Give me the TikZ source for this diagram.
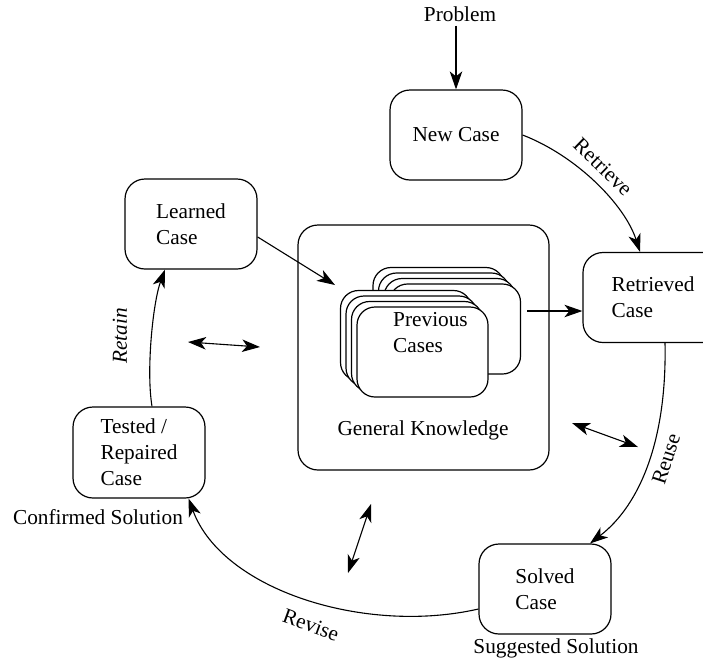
\documentclass[tikz,border=0pt]{standalone}
\usepackage{fontspec}
\setmainfont{Liberation Serif}
\usetikzlibrary{arrows.meta}
\begin{document}
\begin{tikzpicture}[x=1pt,y=-1pt,
  every node/.style={font=\fontsize{21.3}{26}\selectfont},
  casebox/.style={draw, line width=1.2pt, rounded corners=20pt, minimum width=132pt,
    minimum height=90pt, align=left, inner sep=0pt},
  card/.style={draw, fill=white, line width=1.2pt, rounded corners=18pt,
    minimum width=131pt, minimum height=90pt, inner sep=0pt},
  tip/.tip={Stealth[length=18pt,width=12.5pt,inset=5pt]},
  arr/.style={line width=1.1pt, -tip},
  darr/.style={line width=1.1pt, tip-tip},
  lbl/.style={inner sep=0pt}
]
\useasboundingbox (0,0) rectangle (703,659);

% the cycle of cases
\node[casebox] (new) at (456,135) {New Case};
\node[casebox, minimum width=140pt] (ret) at (653,297.5) {Retrieved\\Case};
\node[casebox] (solved) at (545,589) {Solved\\Case};
\node[casebox, minimum height=91pt] (tested) at (139,452.5) {Tested /\\Repaired\\Case};
\node[casebox] (learned) at (191,224) {Learned\\Case};

% general knowledge with the case base
\node[draw, line width=1.2pt, rounded corners=20pt, minimum width=251pt,
  minimum height=245pt] (gk) at (423.5,347.5) {};
\foreach \k in {3,2,1}
  \node[card] (backcard\k) at (455-5.5*\k, 329-5.5*\k) {};
\node[card] (back) at (455,329) {};
\foreach \k in {3,2,1}
  \node[card] (frontcard\k) at (422.5-5.5*\k, 352-5.5*\k) {};
\node[card] (front) at (422.5,352) {};
\node[lbl, align=left, anchor=west] (prev) at (393,333) {Previous\\Cases};
\node[lbl] (gklabel) at (423,430) {General Knowledge};

% outside texts
\node[lbl] (problem) at (460,14) {Problem};
\node[lbl] (suggested) at (556,648) {Suggested Solution};
\node[lbl] (confirmed) at (98,517) {Confirmed Solution};

% step labels
\node[lbl, rotate=-44] (retrieve) at (603,167) {Retrieve};
\node[lbl, rotate=72] (reuse) at (666,459) {Reuse};
\node[lbl, rotate=-20] (revise) at (311,625) {Revise};
\node[lbl, rotate=90] (retain) at (120,336) {\itshape Retain};

% cycle arrows
\draw[arr, shorten <=4pt] (new.north |- problem.south) -- (new.north);
\draw[arr] (new.east) .. controls (577,156) and (625,205) .. ([xshift=-13pt]ret.north);
\draw[arr] ([xshift=12pt]ret.south) .. controls (667,440) and (640,505) .. ([xshift=45pt]solved.north);
\draw[arr] ([yshift=-20pt]solved.west) .. controls (365,635) and (222,590) .. ([xshift=-17pt]tested.south east);
\draw[arr] ([xshift=13pt]tested.north) .. controls (146,370) and (153,302) .. ([xshift=-26pt]learned.south);

% links with the case base
\coordinate (gkin) at (335,285);
\draw[arr] (learned.-11) -- (gkin);
\coordinate (bk) at (527,311);
\draw[arr] (bk) -- (ret.west |- bk);

% exchanges with general knowledge
\coordinate (la) at (188,342);
\coordinate (lb) at (260,347);
\draw[darr] (la) -- (lb);
\coordinate (ra) at (572,423);
\coordinate (rb) at (638,447);
\draw[darr] (ra) -- (rb);
\coordinate (ba) at (371,504);
\coordinate (bb) at (348,573);
\draw[darr] (ba) -- (bb);
\end{tikzpicture}
\end{document}
